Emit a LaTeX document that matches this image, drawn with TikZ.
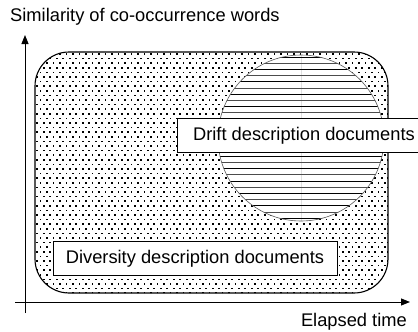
\documentclass[tikz,border=0pt]{standalone}
\usepackage{fontspec}
\setmainfont{Liberation Sans}
\usetikzlibrary{arrows.meta}
\begin{document}
\begin{tikzpicture}[x=1pt,y=-1pt,
  label text/.style={font=\fontsize{18.3}{21}\selectfont, inner sep=0pt},
  docbox/.style={draw=black, line width=0.9pt, fill=white, font=\fontsize{18.3}{21}\selectfont, inner sep=0pt, minimum height=34pt},
  axisline/.style={line width=1pt, -{Triangle[length=9pt,width=7pt]}}]
\useasboundingbox (0,0) rectangle (418,332);
\fill[white] (0,0) rectangle (418,332);

% dotted region
\begin{scope}
  \clip[rounded corners=34pt] (35,52) rectangle (388,293);
  \foreach \j in {0,...,54}{
    \pgfmathsetmacro{\yy}{54+4.6*\j}
    \pgfmathsetmacro{\off}{mod(\j,2)*3.25}
    \foreach \i in {0,...,55}{
      \fill[black] ({34+\off+6.5*\i-0.85},{\yy-0.85}) rectangle +(1.7,1.7);
    }
  }
\end{scope}
\draw[line width=1.1pt, rounded corners=34pt] (35,52) rectangle (388,293);

% hatched circle
\fill[white] (301,138) circle (83);
\begin{scope}
  \clip (301,138) circle (83);
  \draw[gray!25, line width=0.3pt] (301,50) -- (301,230);
  \foreach \k in {0,...,27}{
    \pgfmathsetmacro{\yl}{57+6.2*\k}
    \ifodd\k
      \draw[black!70, line width=0.8pt] (215,\yl) -- (390,\yl);
    \else
      \draw[black, line width=0.9pt] (215,\yl) -- (390,\yl);
    \fi
  }
\end{scope}
\draw[gray!70!black, line width=0.6pt] (301,138) circle (83);

% document labels
\node[docbox, anchor=north west, minimum width=243pt] (drift) at (177,118)
  {\hspace*{10pt}Drift description documents\hfill};
\node[docbox, minimum width=284pt] (diversity) at (195,258.5)
  {Diversity description documents};

% axes
\coordinate (ybot) at (25,313);
\coordinate (ytop) at (25,35);
\coordinate (xleft) at (15,302);
\coordinate (xright) at (410,302);
\draw[axisline] (ybot) -- (ytop);
\draw[axisline] (xleft) -- (xright);

\node[label text, anchor=west] (ylabel) at (10,17) {Similarity of co-occurrence words};
\node[label text, anchor=east] (xlabel) at (407,322) {Elapsed time};
\end{tikzpicture}
\end{document}
